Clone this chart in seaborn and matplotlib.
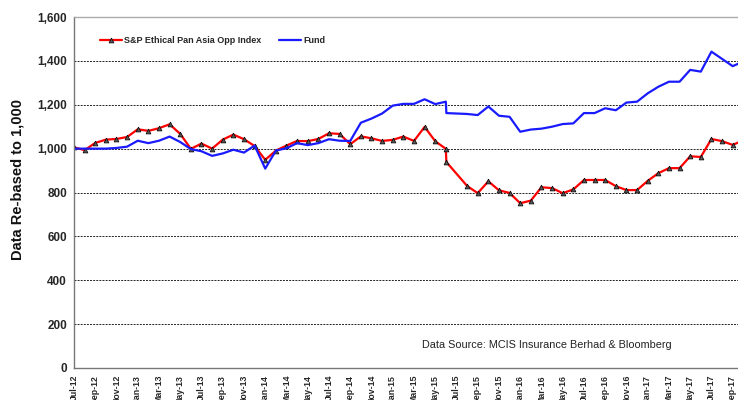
import numpy as np
import pandas as pd
import matplotlib
matplotlib.use("Agg")
import matplotlib.pyplot as plt
import seaborn as sns

# ---------------------------------------------------------------------------
# Data (months counted from Jul-12; Jun-15 has two readings, Jul-15 is missing)
# ---------------------------------------------------------------------------
months = [0, 1, 2, 3, 4, 5, 6, 7, 8, 9, 10, 11, 12, 13, 14, 15, 16, 17, 18, 19,
          20, 21, 22, 23, 24, 25, 26, 27, 28, 29, 30, 31, 32, 33, 34, 35, 35.05,
          37, 38, 39, 40, 41, 42, 43, 44, 45, 46, 47, 48, 49, 50, 51, 52, 53,
          54, 55, 56, 57, 58, 59, 60, 61, 62, 63]

index_vals = [1006, 993, 1026, 1041, 1044, 1053, 1088, 1081, 1093, 1111, 1067,
              999, 1023, 1000, 1041, 1064, 1043, 1012, 949, 991, 1014, 1035,
              1034, 1044, 1070, 1067, 1020, 1056, 1047, 1035, 1040, 1055, 1035,
              1099, 1034, 999, 939, 830, 797, 851, 810, 798, 751, 763, 824,
              820, 797, 814, 857, 857, 857, 829, 811, 811, 853, 888, 911, 911,
              965, 962, 1044, 1034, 1017, 1038]

fund_vals = [1000, 1000, 1000, 1000, 1003, 1009, 1036, 1025, 1036, 1055, 1030,
             998, 988, 967, 978, 995, 982, 1014, 909, 991, 1002, 1025, 1016,
             1025, 1043, 1036, 1035, 1118, 1137, 1160, 1196, 1204, 1204, 1225,
             1203, 1214, 1162, 1158, 1153, 1192, 1150, 1145, 1077, 1087, 1091,
             1100, 1112, 1115, 1162, 1162, 1184, 1175, 1210, 1214, 1252, 1282,
             1305, 1305, 1359, 1351, 1442, 1409, 1376, 1397]

tick_labels = ["Jul-12", "Sep-12", "Nov-12", "Jan-13", "Mar-13", "May-13",
               "Jul-13", "Sep-13", "Nov-13", "Jan-14", "Mar-14", "May-14",
               "Jul-14", "Sep-14", "Nov-14", "Jan-15", "Mar-15", "May-15",
               "Jul-15", "Sep-15", "Nov-15", "Jan-16", "Mar-16", "May-16",
               "Jul-16", "Sep-16", "Nov-16", "Jan-17", "Mar-17", "May-17",
               "Jul-17", "Sep-17"]

INDEX_LABEL = "S&P Ethical Pan Asia Opp Index"
FUND_LABEL = "Fund"

# ---------------------------------------------------------------------------
# Style
# ---------------------------------------------------------------------------
sns.set_theme(style="white")
plt.rcParams["font.family"] = ["Liberation Sans", "DejaVu Sans"]
plt.rcParams["font.weight"] = "bold"

df = pd.DataFrame({"month": months, "index": index_vals, "fund": fund_vals})

fig = plt.figure(figsize=(7.38, 4.0), dpi=100)
ax = fig.add_axes([74 / 738, 32 / 400, 664 / 738, 351 / 400])

sns.lineplot(data=df, x="month", y="index", ax=ax, color="#ff0000",
             linewidth=1.6, marker="^", markersize=3.5,
             markerfacecolor="#555555", markeredgecolor="black",
             markeredgewidth=0.5, estimator=None, sort=False,
             label=INDEX_LABEL)
sns.lineplot(data=df, x="month", y="fund", ax=ax, color="#1a1aff",
             linewidth=1.6, estimator=None, sort=False, label=FUND_LABEL)

# axes limits & ticks
ax.set_xlim(0, 62.5)
ax.set_ylim(0, 1600)
ax.set_xticks(np.arange(0, 63, 2))
ax.set_xticklabels(tick_labels, rotation=90, fontsize=6.3, fontweight="bold")
ax.set_yticks(np.arange(0, 1601, 200))
ax.set_yticklabels([f"{v:,}" for v in range(0, 1601, 200)],
                   fontsize=8.5, fontweight="bold")
ax.tick_params(axis="both", direction="out", length=3, width=0.8,
               color="#666666", pad=2)
ax.set_xlabel("")
ax.set_ylabel("")

# grid
for v in range(200, 1600, 200):
    ax.axhline(v, color="#222222", linewidth=0.7, linestyle=(0, (2, 1.2)),
               zorder=0)

for side in ["left", "bottom"]:
    ax.spines[side].set_color("#777777")
    ax.spines[side].set_linewidth(1.0)
ax.spines["top"].set_color("#aaaaaa")
ax.spines["top"].set_linewidth(1.0)
ax.spines["right"].set_visible(False)

fig.text(18 / 738, 1 - 180 / 400, "Data Re-based to 1,000", rotation=90,
         ha="center", va="center", fontsize=10.5, fontweight="bold",
         color="#111111")

ax.text(0.712, 0.066, "Data Source: MCIS Insurance Berhad & Bloomberg",
        transform=ax.transAxes, ha="center", va="center", fontsize=7.8,
        fontweight="normal", color="#222222")

ax.legend(loc="center left", bbox_to_anchor=(0.039, 0.934), ncol=2,
          frameon=False, handlelength=2.4, handletextpad=0.25,
          columnspacing=2.0, borderpad=0, borderaxespad=0,
          prop={"weight": "bold", "size": 6.5})

fig.savefig("out.png", dpi=100, facecolor="white")
